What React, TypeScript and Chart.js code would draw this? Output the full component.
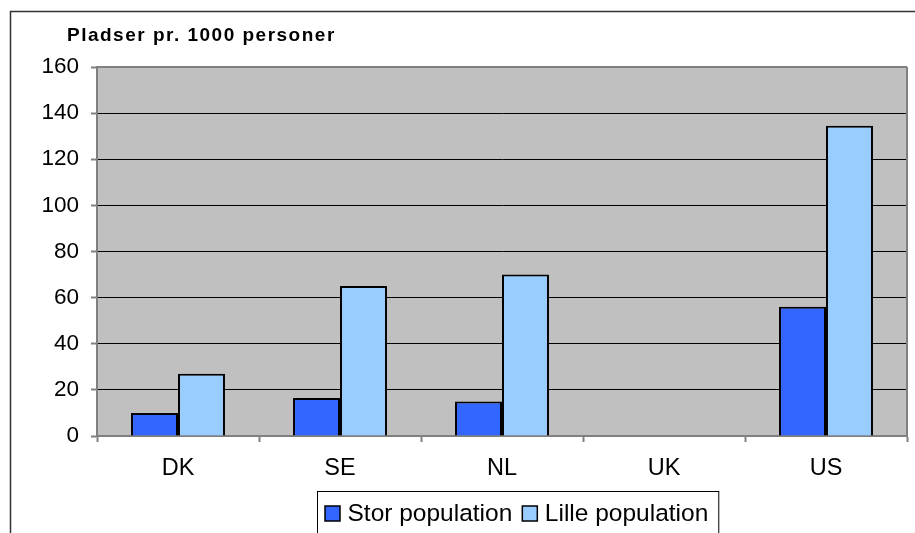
import React, { useEffect, useRef } from "react";
import { Chart, registerables } from "chart.js";

Chart.register(...registerables);

const categories = ["DK", "SE", "NL", "UK", "US"];
const storPopulation = [10, 16.5, 15, null, 56];
const lillePopulation = [27, 65, 70, null, 134.5];
const seriesNames = ["Stor population", "Lille population"];
const seriesColors = ["#3366FF", "#99CCFF"];
const yTicks = [0, 20, 40, 60, 80, 100, 120, 140, 160];
const titleText = "Pladser pr. 1000 personer";

const FONT = "'Liberation Sans', Arial, sans-serif";
const GRAY = "#808080";

const decorPlugin = {
  id: "decor",
  beforeDraw(chart: any) {
    const { ctx, chartArea } = chart;
    ctx.save();
    ctx.fillStyle = "#ffffff";
    ctx.fillRect(0, 0, chart.width, chart.height);
    ctx.fillStyle = "#C0C0C0";
    ctx.fillRect(chartArea.left, chartArea.top, chartArea.right - chartArea.left, chartArea.bottom - chartArea.top);
    ctx.restore();
  },
  afterDraw(chart: any) {
    const { ctx, chartArea } = chart;
    ctx.save();
    // plot area border (top and right)
    ctx.strokeStyle = GRAY;
    ctx.lineWidth = 2;
    ctx.beginPath();
    ctx.moveTo(chartArea.right, chartArea.top);
    ctx.lineTo(chartArea.right, chartArea.bottom);
    ctx.stroke();
    ctx.beginPath();
    ctx.moveTo(chartArea.left, chartArea.top);
    ctx.lineTo(chartArea.right, chartArea.top);
    ctx.stroke();
    // outer frame
    ctx.strokeStyle = "#333333";
    ctx.lineWidth = 1.5;
    ctx.strokeRect(10.5, 11.5, chart.width + 20, chart.height + 20);
    // title
    ctx.fillStyle = "#000000";
    ctx.font = `bold 19px ${FONT}`;
    (ctx as any).letterSpacing = "1.5px";
    ctx.textBaseline = "alphabetic";
    ctx.textAlign = "left";
    ctx.fillText(titleText, 67, 41);
    (ctx as any).letterSpacing = "0px";
    // legend
    const boxLeft = 317;
    const boxTop = 491;
    ctx.font = `24.5px ${FONT}`;
    ctx.textBaseline = "middle";
    const cy = 513;
    let total = 8;
    chart.data.datasets.forEach((ds: any, i: number) => {
      total += 22 + ctx.measureText(ds.label).width + (i < chart.data.datasets.length - 1 ? 10 : 11);
    });
    ctx.fillStyle = "#ffffff";
    ctx.fillRect(boxLeft, boxTop, total, chart.height - boxTop + 5);
    ctx.strokeStyle = "#000000";
    ctx.lineWidth = 1;
    ctx.strokeRect(boxLeft + 0.5, boxTop + 0.5, total, chart.height - boxTop + 5);
    let x = boxLeft + 8;
    chart.data.datasets.forEach((ds: any) => {
      ctx.fillStyle = ds.backgroundColor;
      ctx.fillRect(x, cy - 7, 15, 15);
      ctx.strokeStyle = "#000000";
      ctx.lineWidth = 1.5;
      ctx.strokeRect(x, cy - 7, 15, 15);
      ctx.fillStyle = "#000000";
      ctx.fillText(ds.label, x + 22.5, cy + 1);
      x += 22.5 + ctx.measureText(ds.label).width + 10;
    });
    ctx.restore();
  },
};

export default function App() {
  const ref = useRef<HTMLCanvasElement | null>(null);
  useEffect(() => {
    if (!ref.current) return;
    const chart = new Chart(ref.current, {
      type: "bar",
      data: {
        labels: categories,
        datasets: [
          {
            label: seriesNames[0],
            data: storPopulation,
            backgroundColor: seriesColors[0],
            borderColor: "#000000",
            borderWidth: 2,
          },
          {
            label: seriesNames[1],
            data: lillePopulation,
            backgroundColor: seriesColors[1],
            borderColor: "#000000",
            borderWidth: 2,
          },
        ],
      },
      options: {
        responsive: false,
        animation: false,
        layout: { padding: { top: 67, right: 8, bottom: 0, left: 0 } },
        datasets: { bar: { categoryPercentage: 0.58, barPercentage: 1 } },
        plugins: {
          legend: { display: false },
          tooltip: { enabled: false },
          title: { display: false },
        },
        scales: {
          x: {
            grid: {
              offset: true,
              drawOnChartArea: false,
              tickLength: 6,
              tickColor: GRAY,
              tickWidth: 2,
            },
            border: { color: GRAY, width: 2 },
            ticks: { color: "#000000", font: { family: FONT, size: 23.5 }, padding: 12 },
            afterFit(scale: any) {
              scale.height = 97;
            },
          },
          y: {
            min: 0,
            max: 160,
            afterBuildTicks(scale: any) {
              scale.ticks = yTicks.map((v) => ({ value: v }));
            },
            grid: {
              color: (c: any) => (c.tick && (c.tick.value === 0 || c.tick.value === 160) ? GRAY : "#000000"),
              lineWidth: 1,
              tickLength: 6,
              tickColor: GRAY,
              tickWidth: 2,
            },
            border: { color: GRAY, width: 2 },
            ticks: { color: "#000000", font: { family: FONT, size: 22.5 }, padding: 12 },
            afterFit(scale: any) {
              scale.width = 97;
            },
          },
        },
      },
      plugins: [decorPlugin],
    });
    return () => chart.destroy();
  }, []);
  return (
    <div style={{ position: "absolute", left: 0, top: 0, width: 915, height: 533 }}>
      <canvas ref={ref} width={915} height={533} style={{ display: "block" }} />
    </div>
  );
}
